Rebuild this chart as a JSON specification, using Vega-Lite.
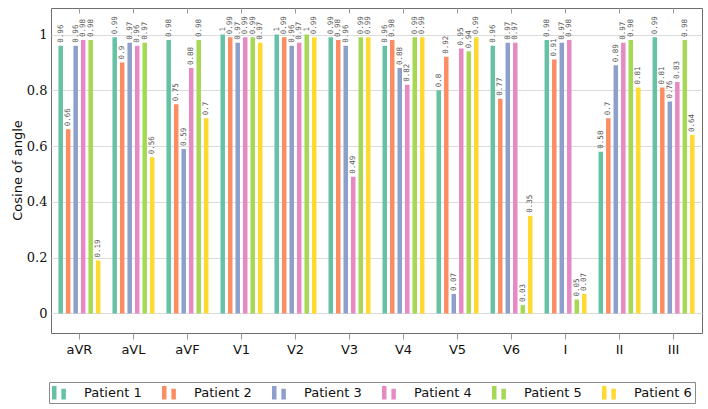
{
  "$schema": "https://vega.github.io/schema/vega-lite/v6.json",
  "width": 651,
  "height": 325,
  "autosize": {"type": "none"},
  "padding": {"left": 51, "top": 8, "right": 6, "bottom": 76},
  "config": {
    "view": {"stroke": "#6e6e6e", "strokeWidth": 1},
    "font": "DejaVu Sans"
  },
  "resolve": {"axis": {"x": "independent"}},
  "data": {
    "values": [
      {"lead": "aVR", "patient": "Patient 1", "value": 0.96},
      {"lead": "aVR", "patient": "Patient 2", "value": 0.66},
      {"lead": "aVR", "patient": "Patient 3", "value": 0.96},
      {"lead": "aVR", "patient": "Patient 4", "value": 0.98},
      {"lead": "aVR", "patient": "Patient 5", "value": 0.98},
      {"lead": "aVR", "patient": "Patient 6", "value": 0.19},
      {"lead": "aVL", "patient": "Patient 1", "value": 0.99},
      {"lead": "aVL", "patient": "Patient 2", "value": 0.9},
      {"lead": "aVL", "patient": "Patient 3", "value": 0.97},
      {"lead": "aVL", "patient": "Patient 4", "value": 0.96},
      {"lead": "aVL", "patient": "Patient 5", "value": 0.97},
      {"lead": "aVL", "patient": "Patient 6", "value": 0.56},
      {"lead": "aVF", "patient": "Patient 1", "value": 0.98},
      {"lead": "aVF", "patient": "Patient 2", "value": 0.75},
      {"lead": "aVF", "patient": "Patient 3", "value": 0.59},
      {"lead": "aVF", "patient": "Patient 4", "value": 0.88},
      {"lead": "aVF", "patient": "Patient 5", "value": 0.98},
      {"lead": "aVF", "patient": "Patient 6", "value": 0.7},
      {"lead": "V1", "patient": "Patient 1", "value": 1},
      {"lead": "V1", "patient": "Patient 2", "value": 0.99},
      {"lead": "V1", "patient": "Patient 3", "value": 0.97},
      {"lead": "V1", "patient": "Patient 4", "value": 0.99},
      {"lead": "V1", "patient": "Patient 5", "value": 0.99},
      {"lead": "V1", "patient": "Patient 6", "value": 0.97},
      {"lead": "V2", "patient": "Patient 1", "value": 1},
      {"lead": "V2", "patient": "Patient 2", "value": 0.99},
      {"lead": "V2", "patient": "Patient 3", "value": 0.96},
      {"lead": "V2", "patient": "Patient 4", "value": 0.97},
      {"lead": "V2", "patient": "Patient 5", "value": 1},
      {"lead": "V2", "patient": "Patient 6", "value": 0.99},
      {"lead": "V3", "patient": "Patient 1", "value": 0.99},
      {"lead": "V3", "patient": "Patient 2", "value": 0.98},
      {"lead": "V3", "patient": "Patient 3", "value": 0.96},
      {"lead": "V3", "patient": "Patient 4", "value": 0.49},
      {"lead": "V3", "patient": "Patient 5", "value": 0.99},
      {"lead": "V3", "patient": "Patient 6", "value": 0.99},
      {"lead": "V4", "patient": "Patient 1", "value": 0.96},
      {"lead": "V4", "patient": "Patient 2", "value": 0.98},
      {"lead": "V4", "patient": "Patient 3", "value": 0.88},
      {"lead": "V4", "patient": "Patient 4", "value": 0.82},
      {"lead": "V4", "patient": "Patient 5", "value": 0.99},
      {"lead": "V4", "patient": "Patient 6", "value": 0.99},
      {"lead": "V5", "patient": "Patient 1", "value": 0.8},
      {"lead": "V5", "patient": "Patient 2", "value": 0.92},
      {"lead": "V5", "patient": "Patient 3", "value": 0.07},
      {"lead": "V5", "patient": "Patient 4", "value": 0.95},
      {"lead": "V5", "patient": "Patient 5", "value": 0.94},
      {"lead": "V5", "patient": "Patient 6", "value": 0.99},
      {"lead": "V6", "patient": "Patient 1", "value": 0.96},
      {"lead": "V6", "patient": "Patient 2", "value": 0.77},
      {"lead": "V6", "patient": "Patient 3", "value": 0.97},
      {"lead": "V6", "patient": "Patient 4", "value": 0.97},
      {"lead": "V6", "patient": "Patient 5", "value": 0.03},
      {"lead": "V6", "patient": "Patient 6", "value": 0.35},
      {"lead": "I", "patient": "Patient 1", "value": 0.98},
      {"lead": "I", "patient": "Patient 2", "value": 0.91},
      {"lead": "I", "patient": "Patient 3", "value": 0.97},
      {"lead": "I", "patient": "Patient 4", "value": 0.98},
      {"lead": "I", "patient": "Patient 5", "value": 0.05},
      {"lead": "I", "patient": "Patient 6", "value": 0.07},
      {"lead": "II", "patient": "Patient 1", "value": 0.58},
      {"lead": "II", "patient": "Patient 2", "value": 0.7},
      {"lead": "II", "patient": "Patient 3", "value": 0.89},
      {"lead": "II", "patient": "Patient 4", "value": 0.97},
      {"lead": "II", "patient": "Patient 5", "value": 0.98},
      {"lead": "II", "patient": "Patient 6", "value": 0.81},
      {"lead": "III", "patient": "Patient 1", "value": 0.99},
      {"lead": "III", "patient": "Patient 2", "value": 0.81},
      {"lead": "III", "patient": "Patient 3", "value": 0.76},
      {"lead": "III", "patient": "Patient 4", "value": 0.83},
      {"lead": "III", "patient": "Patient 5", "value": 0.98},
      {"lead": "III", "patient": "Patient 6", "value": 0.64}
    ]
  },
  "encoding": {
    "xOffset": {
      "field": "patient",
      "type": "nominal",
      "sort": null,
      "scale": {"paddingInner": 0.4, "paddingOuter": 0.2}
    },
    "y": {
      "field": "value",
      "type": "quantitative",
      "scale": {"domain": [-0.07, 1.095], "nice": false, "zero": false},
      "axis": {
        "title": "Cosine of angle",
        "titleFont": "DejaVu Sans",
        "titleFontSize": 13,
        "titleFontWeight": "normal",
        "titleColor": "#111",
        "titleX": -34,
        "titleY": 162,
        "titleAngle": 270,
        "titleAlign": "center",
        "titleBaseline": "middle",
        "values": [0, 0.2, 0.4, 0.6, 0.8, 1],
        "format": ".1~f",
        "labelFont": "DejaVu Serif",
        "labelFontSize": 13,
        "labelColor": "#111",
        "labelPadding": 4,
        "ticks": false,
        "domain": false,
        "grid": true,
        "gridColor": "#dcdcdc",
        "gridWidth": 1
      }
    }
  },
  "layer": [
    {
      "mark": {"type": "bar", "opacity": 1},
      "encoding": {
        "x": {
          "field": "lead",
          "type": "nominal",
          "sort": null,
          "scale": {"paddingInner": 0.167, "paddingOuter": 0.11},
          "axis": {
            "title": null,
            "labelAngle": 0,
            "labelFont": "DejaVu Sans",
            "labelFontSize": 13,
            "labelColor": "#111",
            "labelPadding": 4,
            "tickSize": 6,
            "tickColor": "#999",
            "domain": false,
            "grid": false
          }
        },
        "color": {
          "field": "patient",
          "type": "nominal",
          "scale": {
            "domain": ["Patient 1", "Patient 2", "Patient 3", "Patient 4", "Patient 5", "Patient 6"],
            "range": ["#66c2a5", "#fc8d62", "#8da0cb", "#e78ac3", "#a6d854", "#ffd92f"]
          },
          "legend": {
            "title": null,
            "orient": "none",
            "legendX": -2,
            "legendY": 374,
            "direction": "horizontal",
            "columns": 6,
            "strokeColor": "#8a8a8a",
            "padding": 3,
            "symbolType": "M-1,-0.9H-0.4V0.9H-1Z M0.25,-0.55H0.85V0.9H0.25Z",
            "symbolSize": 225,
            "symbolStrokeWidth": 0,
            "symbolOpacity": 1,
            "labelFont": "DejaVu Sans",
            "labelFontSize": 13,
            "labelColor": "#111",
            "labelOffset": 17,
            "columnPadding": 20
          }
        }
      }
    },
    {
      "mark": {
        "type": "text",
        "angle": 270,
        "align": "left",
        "baseline": "middle",
        "dx": 3,
        "font": "DejaVu Sans Mono",
        "fontSize": 7.5,
        "color": "#555"
      },
      "encoding": {
        "x": {
          "field": "lead",
          "type": "nominal",
          "sort": null,
          "axis": {
            "orient": "top",
            "title": null,
            "labels": false,
            "tickSize": -5,
            "tickColor": "#999",
            "domain": false,
            "grid": false
          }
        },
        "text": {"field": "value", "type": "quantitative", "format": ".2~f"}
      }
    }
  ]
}
